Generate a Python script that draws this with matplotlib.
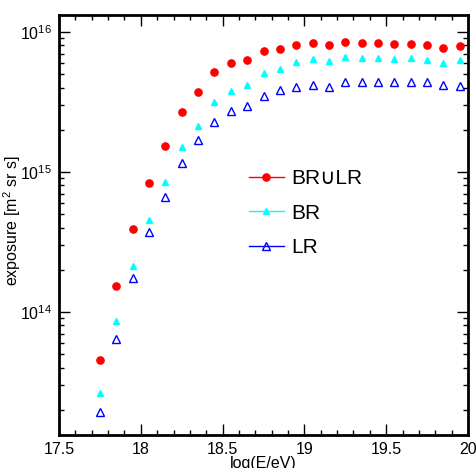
import matplotlib
matplotlib.use('Agg')
import matplotlib.pyplot as plt
from matplotlib.ticker import MultipleLocator, LogLocator, NullFormatter

plt.rcParams['font.family'] = ['Liberation Sans', 'DejaVu Sans']
plt.rcParams['mathtext.fontset'] = 'custom'
plt.rcParams['mathtext.rm'] = 'Liberation Sans'
plt.rcParams['mathtext.it'] = 'Liberation Sans'
plt.rcParams['mathtext.default'] = 'regular'

# log10 of energy bin centres
log_e = [17.75, 17.85, 17.95, 18.05, 18.15, 18.25, 18.35, 18.45, 18.55, 18.65, 18.75, 18.85,
         18.95, 19.05, 19.15, 19.25, 19.35, 19.45, 19.55, 19.65, 19.75, 19.85, 19.95]

# exposure in m^2 sr s
exp_combined = [4.5e13, 1.52e14, 3.9e14, 8.3e14, 1.52e15, 2.67e15, 3.75e15, 5.15e15, 5.98e15,
                6.3e15, 7.3e15, 7.57e15, 8.07e15, 8.39e15, 8.07e15, 8.53e15, 8.35e15, 8.39e15,
                8.17e15, 8.25e15, 8.07e15, 7.65e15, 7.94e15]
exp_br = [2.64e13, 8.67e13, 2.12e14, 4.54e14, 8.53e14, 1.50e15, 2.14e15, 3.15e15, 3.79e15,
          4.2e15, 5.12e15, 5.47e15, 6.06e15, 6.41e15, 6.24e15, 6.63e15, 6.49e15, 6.55e15,
          6.41e15, 6.49e15, 6.31e15, 5.98e15, 6.31e15]
exp_lr = [1.92e13, 6.44e13, 1.74e14, 3.69e14, 6.67e14, 1.16e15, 1.69e15, 2.26e15, 2.73e15,
          2.96e15, 3.48e15, 3.84e15, 4.07e15, 4.2e15, 4.05e15, 4.40e15, 4.35e15, 4.35e15,
          4.37e15, 4.40e15, 4.37e15, 4.18e15, 4.14e15]

labels = ['BR\u222aLR', 'BR', 'LR']

fig = plt.figure(figsize=(4.76, 4.68), dpi=100)
ax = fig.add_axes([59 / 476, 33 / 468, 409 / 476, 420 / 468])

styles = [
    dict(color='red', marker='o', markersize=5.2),
    dict(color='cyan', marker='^', markersize=4.8),
    dict(color='blue', marker='^', markersize=5.3, markerfacecolor='none', markeredgewidth=1),
]

# points only on the plot; the legend keys also carry a line
leg_handles = []
for ys, st in zip([exp_combined, exp_br, exp_lr], styles):
    ax.plot(log_e, ys, linestyle='none', **st)
    leg_handles.append(plt.Line2D([], [], lw=1, **st))

ax.set_yscale('log')
ax.set_xlim(17.5, 20.0)
ax.set_ylim(1.32e13, 1.32e16)

ax.xaxis.set_minor_locator(MultipleLocator(0.1))
ax.set_xticks([17.5, 18, 18.5, 19, 19.5, 20])
ax.set_xticklabels(['17.5', '18', '18.5', '19', '19.5', '20'])
ax.yaxis.set_major_locator(LogLocator(base=10, numticks=10))
ax.yaxis.set_minor_locator(LogLocator(base=10, subs=range(2, 10), numticks=20))
ax.yaxis.set_minor_formatter(NullFormatter())

ax.tick_params(which='both', direction='in', top=True, right=True, width=1, labelsize=11.5)
ax.tick_params(which='major', length=8, pad=5)
ax.tick_params(which='minor', length=3.8)

for sp in ax.spines.values():
    sp.set_linewidth(2)

ax.set_xlabel('log(E/eV)', fontsize=11.5, labelpad=-1)
ax.set_ylabel('exposure [m$^{2}$ sr s]', fontsize=11.5)
ax.yaxis.set_label_coords(-0.088, 0.51)

ax.legend(handles=leg_handles, labels=labels, loc='upper left', bbox_to_anchor=(0.465, 0.633),
          frameon=False, fontsize=15, handlelength=1.65, handletextpad=0.35, labelspacing=0.74,
          borderpad=0, borderaxespad=0)

fig.savefig('out.png', dpi=100)
